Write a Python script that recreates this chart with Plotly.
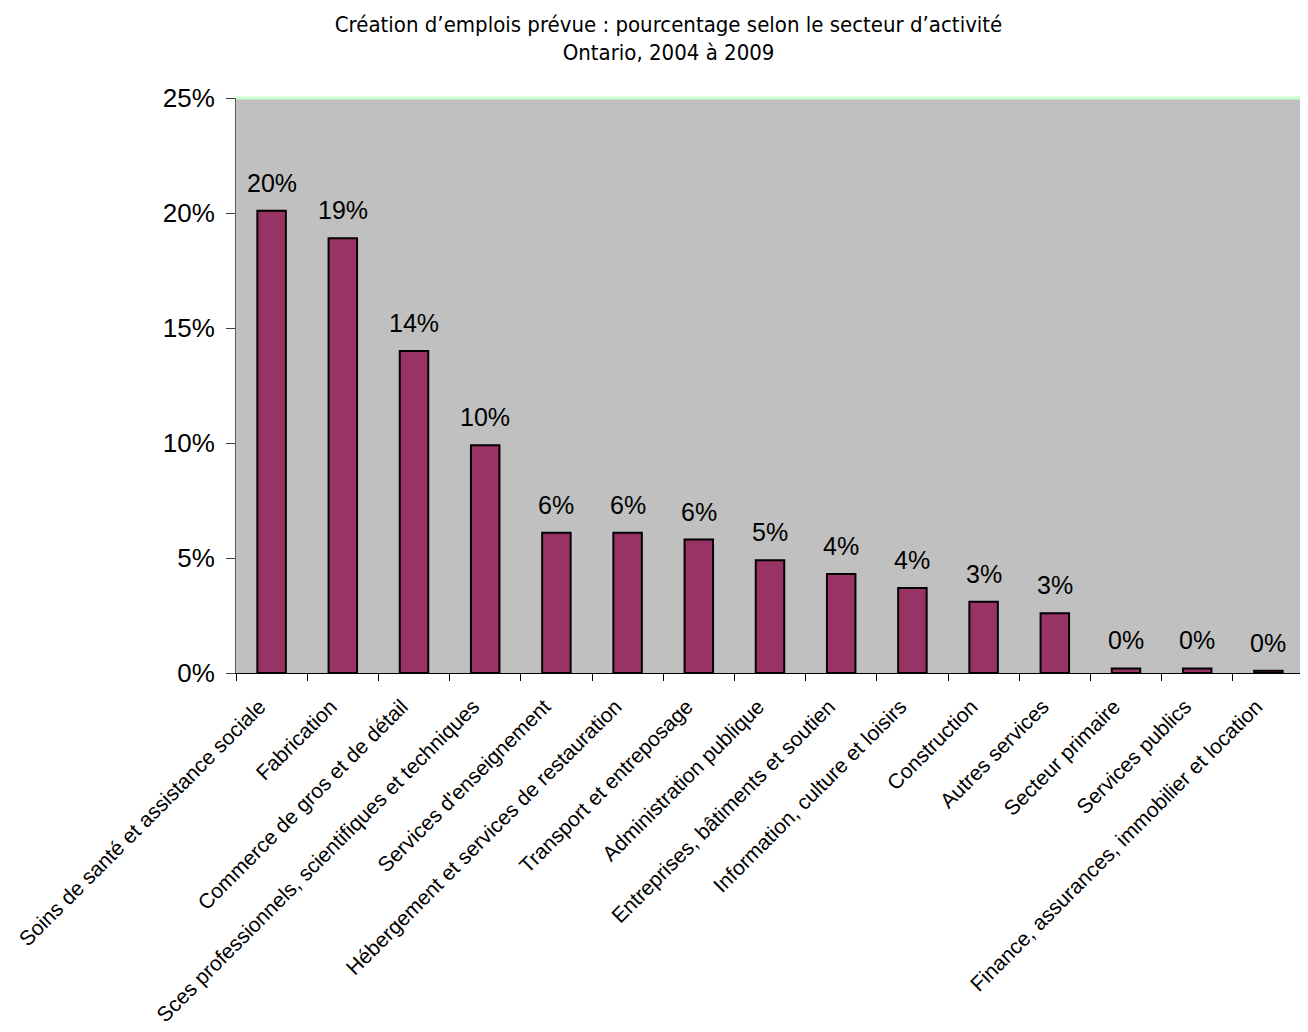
import plotly.graph_objects as go

categories = [
    "Soins de santé et assistance sociale",
    "Fabrication",
    "Commerce de gros et de détail",
    "Sces professionnels, scientifiques et techniques",
    "Services d'enseignement",
    "Hébergement et services de restauration",
    "Transport et entreposage",
    "Administration publique",
    "Entreprises, bâtiments et soutien",
    "Information, culture et loisirs",
    "Construction",
    "Autres services",
    "Secteur primaire",
    "Services publics",
    "Finance, assurances, immobilier et location",
]
values = [0.201, 0.189, 0.140, 0.099, 0.061, 0.061, 0.058, 0.049, 0.043, 0.037,
          0.031, 0.026, 0.002, 0.002, 0.001]
y_ticks = [0, 0.05, 0.10, 0.15, 0.20, 0.25]
y_tick_labels = ["0%", "5%", "10%", "15%", "20%", "25%"]

fig = go.Figure(go.Bar(
    x=categories,
    y=values,
    marker=dict(color="#993366", line=dict(color="black", width=2)),
    cliponaxis=False,
))

annotations = [
    dict(x=c, y=v, xref="x", yref="y", text=f"{v:.0%}", showarrow=False,
         xanchor="center", yanchor="bottom", yshift=12,
         font=dict(family="Liberation Sans, Arial, sans-serif", size=25, color="black"))
    for c, v in zip(categories, values)
]

fig.update_layout(
    width=1308, height=1032,
    margin=dict(l=228, r=12, t=90, b=367),
    paper_bgcolor="white",
    plot_bgcolor="#C0C0C0",
    bargap=0.6,
    showlegend=False,
    annotations=annotations,
    title=dict(
        text="Création d’emplois prévue : pourcentage selon le secteur d’activité<br>Ontario, 2004 à 2009",
        x=0.505, xanchor="center", y=0.977, yanchor="middle",
        font=dict(family="Liberation Sans Narrow, DejaVu Sans Condensed, Arial Narrow, sans-serif",
                  size=22, color="black"),
        automargin=False,
    ),
    xaxis=dict(
        tickangle=-45,
        automargin=False,
        tickfont=dict(family="Liberation Sans, Arial, sans-serif", size=21, color="black"),
        showline=True, linecolor="black", linewidth=1,
        ticks="outside", tickson="boundaries", ticklen=7, tickcolor="black",
        ticklabelstandoff=12, ticklabelshift=-12,
        showgrid=False,
    ),
    yaxis=dict(
        range=[0, 0.25],
        automargin=False,
        tickvals=y_ticks, ticktext=y_tick_labels,
        tickfont=dict(family="Liberation Sans, Arial, sans-serif", size=26, color="black"),
        showline=True, linecolor="#3f6f3f", linewidth=1,
        ticks="outside", ticklen=9, tickcolor="#404040",
        ticklabelstandoff=6,
        showgrid=False, zeroline=False,
    ),
    shapes=[
        dict(type="line", xref="paper", yref="paper", x0=0, x1=1, y0=1, y1=1,
             line=dict(color="#ccffcc", width=3)),
        dict(type="line", xref="paper", yref="paper", x0=1, x1=1, y0=0, y1=1,
             line=dict(color="#ccffcc", width=3)),
    ],
)

fig.write_html("out.html")
